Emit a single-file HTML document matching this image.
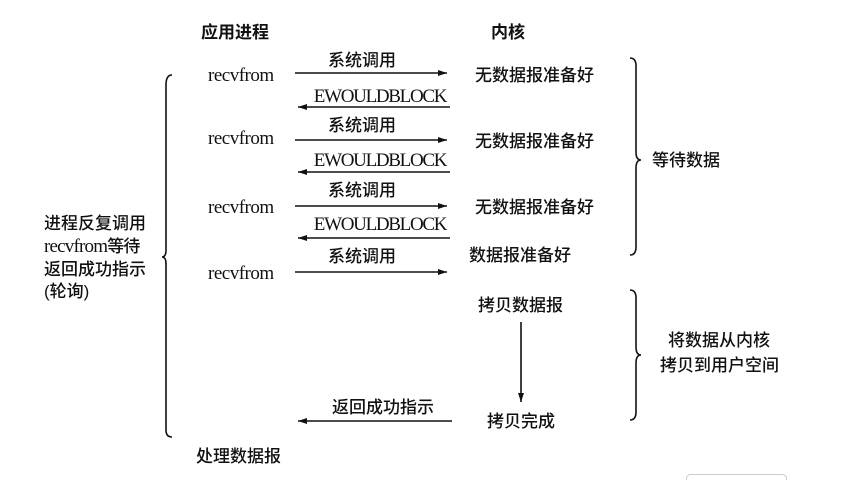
<!DOCTYPE html>
<html><head><meta charset="utf-8"><style>
html,body{margin:0;padding:0;background:#fff;}
svg text{font-family:"Liberation Serif","Noto Serif CJK SC","Noto Sans CJK SC",serif;fill:#111;}
.c{font-family:"Liberation Sans","Noto Sans CJK SC",sans-serif;font-size:17px;font-weight:500;}
.r{font-size:19px;}
.b{font-weight:bold;}
</style></head><body>
<svg width="857" height="480" viewBox="0 0 857 480" xmlns="http://www.w3.org/2000/svg">
<defs>
<marker id="a" markerWidth="10" markerHeight="8" refX="9" refY="4" orient="auto" markerUnits="userSpaceOnUse">
<path d="M0,1 L9,4 L0,7 Z" fill="#111"/></marker>
</defs>
<text class="c b" x="235" y="38" text-anchor="middle" font-size="17">应用进程</text>
<text class="c b" x="508" y="38" text-anchor="middle" font-size="17">内核</text>

<text class="r" x="208" y="81" letter-spacing="-0.5">recvfrom</text>
<text class="r" x="208" y="144" letter-spacing="-0.5">recvfrom</text>
<text class="r" x="208" y="213" letter-spacing="-0.5">recvfrom</text>
<text class="r" x="208" y="279" letter-spacing="-0.5">recvfrom</text>
<g stroke="#111" stroke-width="1.6" fill="none">
<line x1="295" y1="73" x2="447" y2="73" marker-end="url(#a)"/>
<line x1="295" y1="140" x2="447" y2="140" marker-end="url(#a)"/>
<line x1="295" y1="206" x2="447" y2="206" marker-end="url(#a)"/>
<line x1="295" y1="272" x2="447" y2="272" marker-end="url(#a)"/>
<line x1="450" y1="107" x2="298" y2="107" marker-end="url(#a)"/>
<line x1="450" y1="172" x2="298" y2="172" marker-end="url(#a)"/>
<line x1="450" y1="238" x2="298" y2="238" marker-end="url(#a)"/>
<line x1="452" y1="421" x2="298" y2="421" marker-end="url(#a)"/>
<line x1="521" y1="322" x2="521" y2="402" marker-end="url(#a)"/>
<path d="M172,75 Q166,75 166,85 L166,250 Q166,257 162,257 Q166,257 166,264 L166,430 Q166,437 172,437"/>
<path d="M630,58 Q636,58 636,66 L636,152 Q636,160 641,160 Q636,160 636,168 L636,247 Q636,255 630,255"/>
<path d="M630,290 Q636,290 636,298 L636,347 Q636,355 641,355 Q636,355 636,363 L636,412 Q636,420 630,420"/>
</g>
<text class="c" x="362" y="66" text-anchor="middle">系统调用</text>
<text class="c" x="362" y="131" text-anchor="middle">系统调用</text>
<text class="c" x="362" y="196" text-anchor="middle">系统调用</text>
<text class="c" x="362" y="262" text-anchor="middle">系统调用</text>
<text class="c" x="383" y="413" text-anchor="middle">返回成功指示</text>
<text class="r" x="380" y="102" text-anchor="middle" font-size="18" letter-spacing="-1.3">EWOULDBLOCK</text>
<text class="r" x="380" y="166" text-anchor="middle" font-size="18" letter-spacing="-1.3">EWOULDBLOCK</text>
<text class="r" x="380" y="230" text-anchor="middle" font-size="18" letter-spacing="-1.3">EWOULDBLOCK</text>

<text class="c" x="475" y="81">无数据报准备好</text>
<text class="c" x="475" y="147">无数据报准备好</text>
<text class="c" x="475" y="213">无数据报准备好</text>
<text class="c" x="469" y="261">数据报准备好</text>
<text class="c" x="478" y="311">拷贝数据报</text>
<text class="c" x="487" y="427">拷贝完成</text>
<text class="c" x="196" y="462">处理数据报</text>

<text class="c" x="44" y="229">进程反复调用</text>
<text class="r" x="44" y="252" font-size="17" letter-spacing="-0.8">recvfrom<tspan class="c">等待</tspan></text>
<text class="c" x="44" y="275">返回成功指示</text>
<text class="c" x="44" y="297">(轮询)</text>

<text class="c" x="652" y="166" font-size="18">等待数据</text>
<text class="c" x="668" y="346">将数据从内核</text>
<text class="c" x="660" y="371">拷贝到用户空间</text>

<rect x="686.5" y="474.5" width="100" height="12" rx="4" fill="none" stroke="#ccc"/>
</svg>
</body></html>
